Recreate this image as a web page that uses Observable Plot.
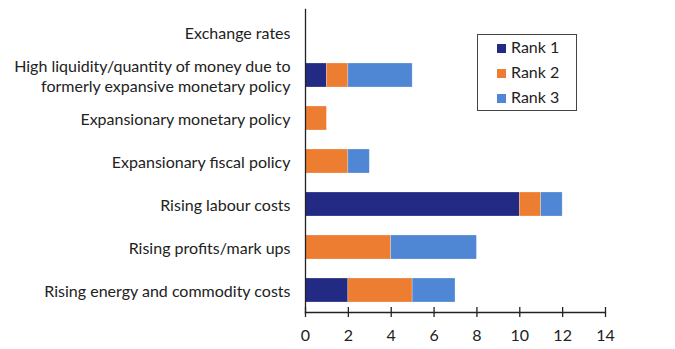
<!DOCTYPE html>
<html>
<head>
<meta charset="utf-8">
<script src="https://cdn.jsdelivr.net/npm/d3@7"></script>
<script src="https://cdn.jsdelivr.net/npm/@observablehq/plot@0.6"></script>
<style>
  body { margin: 0; background: #fff; }
  #wrap { position: relative; width: 675px; height: 349px; font-family: Lato, sans-serif; }
  #chart svg { display: block; }
  #legend { position: absolute; left: 477px; top: 34px; width: 100px; height: 77px; border: 1px solid #444; box-sizing: border-box; font-size: 16px; color: #222; }
  #legend .item { position: absolute; left: 19px; height: 18px; line-height: 18px; white-space: nowrap; }
  #legend .sw { display: inline-block; width: 9px; height: 9px; margin-right: 5px; vertical-align: 0px; }
</style>
</head>
<body>
<div id="wrap"><div id="chart"></div><div id="legend"></div></div>
<script>
const categories = [
  "Exchange rates",
  "High liquidity/quantity of money due to\nformerly expansive monetary policy",
  "Expansionary monetary policy",
  "Expansionary fiscal policy",
  "Rising labour costs",
  "Rising profits/mark ups",
  "Rising energy and commodity costs"
];
const series = ["Rank 1", "Rank 2", "Rank 3"];
const rank1 = [0, 1, 0, 0, 10, 0, 2];
const rank2 = [0, 1, 1, 2, 1, 4, 3];
const rank3 = [0, 3, 0, 1, 1, 4, 2];
const colors = ["#232a83", "#ed7d31", "#5087d4"];
const xTicks = [0, 2, 4, 6, 8, 10, 12, 14];

const values = [rank1, rank2, rank3];
const data = [];
categories.forEach((c, i) => series.forEach((s, j) => data.push({category: c, rank: s, value: values[j][i]})));

const chart = Plot.plot({
  width: 675,
  height: 349,
  marginLeft: 305,
  marginRight: 70,
  marginTop: 9,
  marginBottom: 37,
  style: {fontFamily: "Lato, sans-serif", fontSize: "16px", color: "#222"},
  x: {domain: [0, 14], ticks: xTicks},
  y: {domain: categories, paddingInner: 0.45, paddingOuter: 0.225, axis: null},
  color: {domain: series, range: colors},
  marks: [
    Plot.barX(data, Plot.stackX({x: "value", y: "category", fill: "rank", order: series, stroke: "#ffffff", strokeOpacity: 0.4, strokeWidth: 0.6})),
    Plot.axisY({tickSize: 0, tickPadding: 15, label: null, fontSize: 16, lineHeight: 1.27, fill: "#222"}),
    Plot.axisX({ticks: xTicks, tickSize: 10, dy: -5, tickPadding: 12, label: null, fontSize: 16, stroke: "#222", strokeWidth: 1.3, fill: "#222"}),
    Plot.frame({anchor: "bottom", stroke: "#222", strokeWidth: 1.3}),
    Plot.frame({anchor: "left", stroke: "#222", strokeWidth: 1.3})
  ]
});
document.getElementById("chart").appendChild(chart);

const legend = document.getElementById("legend");
series.forEach((s, j) => {
  const d = document.createElement("div");
  d.className = "item";
  d.style.top = (2.7 + j * 25.3) + "px";
  d.innerHTML = `<span class="sw" style="background:${colors[j]}"></span>${s}`;
  legend.appendChild(d);
});
</script>
</body>
</html>
